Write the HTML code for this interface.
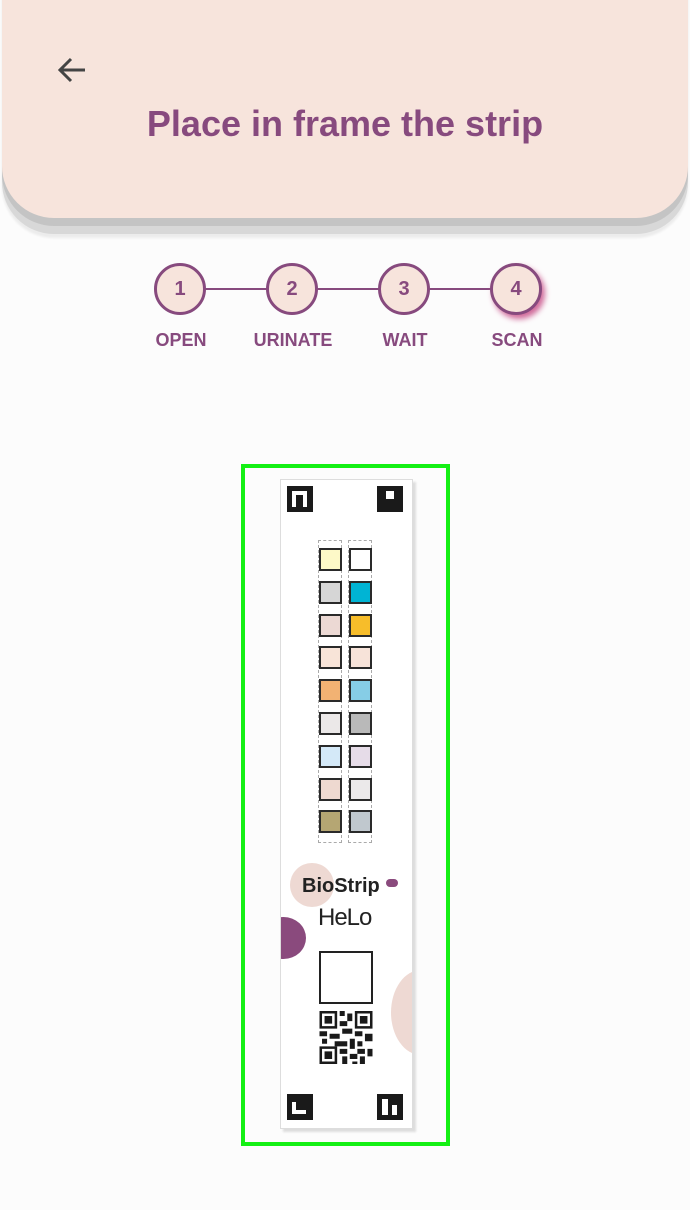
<!DOCTYPE html>
<html><head><meta charset="utf-8"><style>
*{margin:0;padding:0;box-sizing:border-box}
body{width:690px;height:1210px;background:#fcfcfc;position:relative;overflow:hidden;font-family:"Liberation Sans",sans-serif}
.a{position:absolute}
.hdr{left:2px;top:-50px;width:686px;height:268px;background:#f7e4dc;border-radius:0 0 52px 52px;box-shadow:0 8px 0 #c4c4c4,0 16px 0 #d8d8d8,0 20px 2px #ececec}
.title{left:0;width:690px;top:103px;text-align:center;color:#874a7e;font-weight:bold;font-size:36px}
.c{width:52px;height:52px;border-radius:50%;border:3px solid #874a7e;background:#f7e4dc;color:#874a7e;font-weight:bold;font-size:20px;text-align:center;line-height:46px;top:263px}
.l{top:330px;color:#874a7e;font-weight:bold;font-size:18px;text-align:center;width:100px}
.sw{width:23px;height:23px;border:2px solid #2a2a2a}
.mk{width:26px;height:26px;background:#1a1a1a}
</style></head><body>
<div class="a hdr"></div>
<svg class="a" style="left:56px;top:56px" width="32" height="28"><path d="M29 14H4M15 3L4 14L15 25" stroke="#444" stroke-width="3" fill="none"/></svg>
<div class="a title">Place in frame the strip</div>
<div class="a" style="left:180px;top:288px;width:336px;height:2px;background:#874a7e"></div>
<div class="a c" style="left:154px">1</div>
<div class="a c" style="left:266px">2</div>
<div class="a c" style="left:378px">3</div>
<div class="a c" style="left:490px;box-shadow:3px 4px 6px #d06a9a">4</div>
<div class="a l" style="left:131px">OPEN</div>
<div class="a l" style="left:243px">URINATE</div>
<div class="a l" style="left:355px">WAIT</div>
<div class="a l" style="left:467px">SCAN</div>
<div class="a" style="left:241px;top:464px;width:209px;height:682px;border:4px solid #14f014"></div>
<div class="a" style="left:280px;top:479px;width:133px;height:650px;background:#fff;border:1px solid #ddd;box-shadow:3px 3px 2px #ddd;overflow:hidden">
 <div class="a" style="left:9px;top:383px;width:44px;height:44px;border-radius:50%;background:#eed9d3"></div>
 <div class="a" style="left:-20px;top:437px;width:45px;height:42px;border-radius:50%;background:#8a4a7d"></div>
 <div class="a" style="left:110px;top:490px;width:60px;height:85px;border-radius:50%;background:#eed9d3"></div>
</div>
<div class="a mk" style="left:287px;top:486px"><div class="a" style="left:5px;top:5px;width:15px;height:16px;border:4px solid #fff;border-bottom:none"></div></div>
<div class="a mk" style="left:377px;top:486px"><div class="a" style="left:9px;top:5px;width:8px;height:8px;background:#fff"></div></div>
<div class="a mk" style="left:287px;top:1094px"><div class="a" style="left:5px;top:8px;width:14px;height:12px;border:4px solid #fff;border-top:none;border-right:none"></div></div>
<div class="a mk" style="left:377px;top:1094px"><div class="a" style="left:5px;top:5px;width:6px;height:16px;background:#fff"></div><div class="a" style="left:15px;top:11px;width:5px;height:10px;background:#fff"></div></div>
<div class="a" style="left:318px;top:540px;width:24px;height:303px;border:1px dashed #aaa"></div>
<div class="a" style="left:348px;top:540px;width:24px;height:303px;border:1px dashed #aaa"></div>
<div id="sw"></div>
<div class="a" style="left:302px;top:875px;font-size:20px;color:#222;font-weight:bold">BioStrip</div>
<div class="a" style="left:386px;top:879px;width:12px;height:8px;border-radius:4px;background:#8a4a7d"></div>
<div class="a" style="left:318px;top:904px;font-size:24px;color:#222;font-weight:normal;letter-spacing:-1px">HeLo</div>
<div class="a" style="left:319px;top:951px;width:54px;height:53px;border:2px solid #222;background:#fff"></div>
<svg class="a" style="left:319px;top:1011px" width="54" height="53" viewBox="0 0 21 21">
<g fill="#1a1a1a"><path d="M0 0h7v7H0zM14 0h7v7h-7zM0 14h7v7H0z"/></g>
<g fill="#fff"><path d="M1 1h5v5H1zM15 1h5v5h-5zM1 15h5v5H1z"/></g>
<g fill="#1a1a1a"><path d="M2 2h3v3H2zM16 2h3v3h-3zM2 16h3v3H2zM8 0h2v2H8zM11 1h2v3h-2zM8 4h3v2H8zM9 7h4v2H9zM0 8h3v2H0zM4 9h4v2H4zM14 8h3v2h-3zM18 9h3v3h-3zM1 11h2v2H1zM6 12h5v2H6zM12 11h2v4h-2zM15 12h2v2h-2zM8 15h3v2H8zM15 15h3v2h-3zM19 15h2v3h-2zM9 18h2v3H9zM12 17h3v2h-3zM16 18h2v3h-2zM13 20h2v1h-2z"/></g></svg>
<script>
var L=["#fdf9c8","#d6d6d6","#ecd9d4","#f8e4d8","#f2b273","#ebe8e8","#d4e9f8","#eed9d0","#b5a673"];
var R=["#ffffff","#00b4d4","#f7bd2a","#f7e3d9","#86cde6","#b9b9b9","#e6dce8","#ebe9ea","#c0c8ce"];
var h="";for(var i=0;i<9;i++){var y=548+i*32.8;
h+='<div class="a sw" style="left:319px;top:'+y+'px;background:'+L[i]+'"></div>';
h+='<div class="a sw" style="left:349px;top:'+y+'px;background:'+R[i]+'"></div>';}
document.getElementById("sw").innerHTML=h;
</script>
</body></html>
